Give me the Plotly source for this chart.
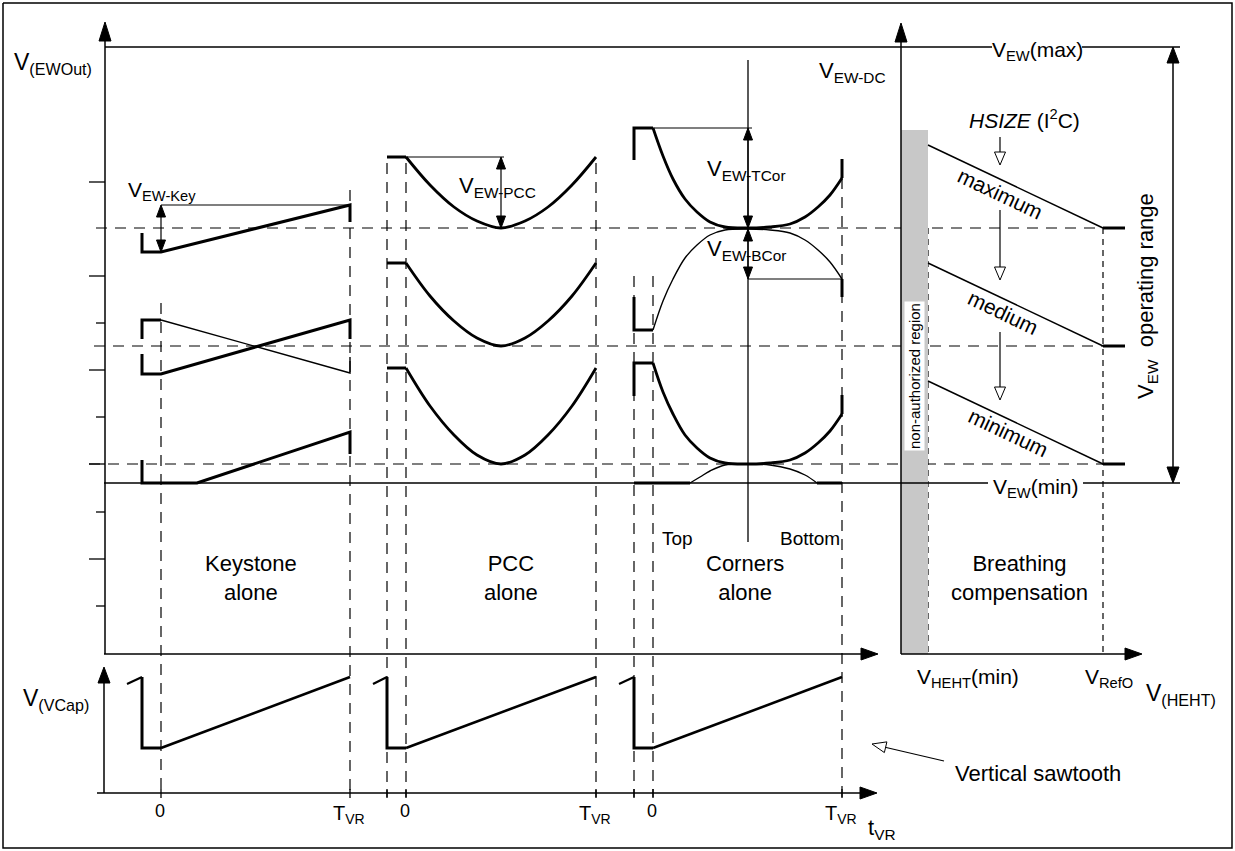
import math
import plotly.graph_objects as go

W, H = 1235, 851
FONT = "Arial, Liberation Sans, Helvetica, sans-serif"

# ---------------- data (diagram units: x to the right, y downwards) ----------------
# voltage levels on the V(EWOut) axis
V_MAX_Y = 47
V_MIN_Y = 483
LEVELS_Y = [228, 346, 464]
LEVELS_X0 = [96, 94, 89]
LEVEL_X1 = 1103
TICK_LONG_Y = [182, 276, 370, 464, 559]
TICK_SHORT_Y = [323, 417, 512, 606]

# time markers of the three vertical periods
SAW_START = [127, 373, 619]
FLY = [142, 387, 634]
ZERO = [161, 406, 653]
TVR = [350, 596, 842]
VLINE_X = [161, 350, 387, 406, 596, 634, 653, 842]
VLINE_TOP = [303, 190, 163, 163, 163, 276, 276, 178]
SAW_PRE_Y, SAW_HIGH_Y, SAW_LOW_Y = 684, 677, 748

# Keystone alone
KEY_A_X = [142, 142, 161, 350, 350]
KEY_A_Y = [233, 252, 252, 205, 222]
KEY_B_X = [142, 142, 161, 350, 350]
KEY_B_Y = [354, 374, 374, 320, 339]
KEY_C_BR_X = [142, 142, 161]
KEY_C_BR_Y = [339, 320, 320]
KEY_C_X = [161, 350, 350]
KEY_C_Y = [320, 373, 357]
KEY_D_X = [142, 142, 197, 350, 350]
KEY_D_Y = [460, 483, 483, 432, 454]

# PCC alone
PCC_X = [387, 406, 430, 454, 477, 501, 525, 548, 572, 596]
PCC_TOP_Y = [157, 157, 185, 207, 221, 228, 221, 207, 185, 157]
PCC_MID_Y = [263, 263, 296, 321, 338, 346, 338, 321, 296, 263]
PCC_LOW_Y = [368, 368, 406, 435, 455, 464, 455, 435, 406, 368]

# Corners alone
COR_X = [653, 663, 673, 685, 697, 710, 725, 748, 770, 790, 805, 818, 830, 842]
COR_TOP_Y = [128, 156, 179, 199, 212, 222, 227, 228, 227, 224, 217, 207, 195, 178]
COR_BOT_Y = [330, 301, 279, 258, 245, 235, 230, 229, 230, 233, 240, 250, 262, 279]
COR_LOW_Y = [363, 392, 414, 435, 448, 458, 463, 464, 463, 460, 453, 443, 431, 414]
COR_LOWB_X = [690, 700, 710, 725, 748, 770, 790, 805, 817]
COR_LOWB_Y = [483, 477, 471, 465, 464, 465, 469, 475, 483]

# Breathing compensation
BR_X = [928, 1103]
BR_MAX_Y = [145, 228]
BR_MED_Y = [263, 346]
BR_MIN_Y = [381, 464]
BR_END_X = 1125

# ---------------- figure ----------------
fig = go.Figure()


def line(xs, ys, width=1.3, dash=None, shape="linear", color="black"):
    fig.add_trace(go.Scatter(x=xs, y=ys, mode="lines", hoverinfo="skip",
                             line=dict(color=color, width=width, dash=dash, shape=shape)))


def segs(pairs, width=1.3, dash=None):
    xs, ys = [], []
    for (x0, y0, x1, y1) in pairs:
        xs += [x0, x1, None]
        ys += [y0, y1, None]
    line(xs, ys, width, dash)


def head(tx, ty, dx, dy, length=16, half=6, fill="black"):
    n = math.hypot(dx, dy)
    ux, uy = dx / n, dy / n
    bx, by = tx - ux * length, ty - uy * length
    px, py = -uy * half, ux * half
    fig.add_trace(go.Scatter(x=[tx, bx + px, bx - px, tx], y=[ty, by + py, by - py, ty],
                             mode="lines", fill="toself", fillcolor=fill, hoverinfo="skip",
                             line=dict(color="black", width=1)))


DASH = "11px,8px"
SDASH = "6px,5px"

# horizontal dashed levels
segs([(x0, y, LEVEL_X1, y) for x0, y in zip(LEVELS_X0, LEVELS_Y)], 1.2, DASH)
# vertical dashed time markers
segs([(x, yt, x, 797) for x, yt in zip(VLINE_X, VLINE_TOP)], 1.2, DASH)
# breathing dashed markers
segs([(BR_X[0], LEVELS_Y[0], BR_X[0], 654), (BR_X[1], LEVELS_Y[0], BR_X[1], 654)], 1.2, SDASH)

# gray non-authorized region
fig.add_trace(go.Scatter(x=[901, 928, 928, 901, 901], y=[130, 130, 654, 654, 130], mode="lines",
                         fill="toself", fillcolor="#c8c8c8", line=dict(width=0, color="#c8c8c8"),
                         hoverinfo="skip"))

# outer frame
line([3, 1232, 1232, 3, 3], [3, 3, 848, 848, 3], 1.5)

# V_EW(max) / V_EW(min) lines (gap for labels)
segs([(105, V_MAX_Y, 992, V_MAX_Y), (1082, V_MAX_Y, 1180, V_MAX_Y),
      (104, V_MIN_Y, 988, V_MIN_Y), (1083, V_MIN_Y, 1180, V_MIN_Y)], 1.3)

# axes
segs([(105, 654, 105, 30), (104, 654, 870, 654),
      (104, 793, 104, 675), (97, 793, 870, 793),
      (901, 654, 901, 30), (901, 654, 1135, 654),
      (1173, 55, 1173, 475)], 1.5)
head(105, 22, 0, -1, 19, 6)
head(901, 23, 0, -1, 19, 6)
head(878, 654, 1, 0, 17, 6)
head(877, 793, 1, 0, 17, 6)
head(104, 667, 0, -1, 16, 6)
head(1142, 654, 1, 0, 17, 6)
head(1173, 47, 0, -1, 16, 6)
head(1173, 483, 0, 1, 16, 6)

# axis ticks
segs([(89, y, 105, y) for y in TICK_LONG_Y] + [(96, y, 105, y) for y in TICK_SHORT_Y], 1.3)
segs([(x, 789, x, 798) for x in VLINE_X], 1.3)

# sawtooth
for s, f, z, t in zip(SAW_START, FLY, ZERO, TVR):
    line([s, f], [SAW_PRE_Y, SAW_HIGH_Y], 2.2)
    line([f, f, z], [SAW_HIGH_Y, SAW_LOW_Y, SAW_LOW_Y], 3)
    line([z, t], [SAW_LOW_Y, SAW_HIGH_Y], 2.6)

# keystone
line(KEY_A_X, KEY_A_Y, 3)
line(KEY_B_X, KEY_B_Y, 3)
line(KEY_C_BR_X, KEY_C_BR_Y, 3)
line(KEY_C_X, KEY_C_Y, 1.4)
line(KEY_D_X, KEY_D_Y, 3)

# PCC
for ys in (PCC_TOP_Y, PCC_MID_Y, PCC_LOW_Y):
    line(PCC_X[:2], ys[:2], 3)
    line(PCC_X[1:], ys[1:], 2.8, shape="spline")

# corners
line([FLY[2], FLY[2], ZERO[2]], [160, COR_TOP_Y[0], COR_TOP_Y[0]], 3)
line(COR_X, COR_TOP_Y, 2.8, shape="spline")
line([TVR[2], TVR[2]], [COR_TOP_Y[-1], 159], 3)

line([FLY[2], FLY[2], ZERO[2]], [297, COR_BOT_Y[0], COR_BOT_Y[0]], 3)
line(COR_X, COR_BOT_Y, 1.4, shape="spline")
line([TVR[2], TVR[2]], [COR_BOT_Y[-1], 297], 3)

line([FLY[2], FLY[2], ZERO[2]], [396, COR_LOW_Y[0], COR_LOW_Y[0]], 3)
line(COR_X, COR_LOW_Y, 2.8, shape="spline")
line([TVR[2], TVR[2]], [COR_LOW_Y[-1], 395], 3)

line([FLY[2], COR_LOWB_X[0]], [V_MIN_Y, V_MIN_Y], 3)
line(COR_LOWB_X, COR_LOWB_Y, 1.4, shape="spline")
line([COR_LOWB_X[-1], TVR[2]], [V_MIN_Y, V_MIN_Y], 3)

# corners centre line
segs([(748, 60, 748, 542)], 1.3)

# amplitude annotation lines + double arrows
segs([(161, 205, 350, 205), (406, 157, 504, 157), (653, 128, 752, 128), (748, 279, 842, 279)], 1.2)
for x, y0, y1 in [(161, 205, 252), (501, 157, 228), (748, 128, 228), (748, 229, 279)]:
    segs([(x, y0 + 8, x, y1 - 8)], 1.2)
    head(x, y0, 0, -1, 12, 4.5)
    head(x, y1, 0, 1, 12, 4.5)

# breathing lines
for ys in (BR_MAX_Y, BR_MED_Y, BR_MIN_Y):
    line(BR_X, ys, 1.5)
    line([BR_X[1], BR_END_X], [ys[1], ys[1]], 3)

# HSIZE hollow arrows
for y0, y1 in [(137, 165), (210, 280), (332, 400)]:
    segs([(1000, y0, 1000, y1 - 13)], 1.2)
    head(1000, y1, 0, 1, 13, 5.5, fill="white")

# vertical sawtooth pointer
segs([(944, 761, 884, 747)], 1.2)
head(872, 744, -72, -17, 14, 5.5, fill="white")

# ---------------- texts ----------------
ann = []


def txt(x, y, s, size=21, xa="left", ya="middle", angle=0, bg=None, color="black"):
    d = dict(x=x, y=y, xref="x", yref="y", text=s, showarrow=False, xanchor=xa, yanchor=ya,
             textangle=angle, font=dict(family=FONT, size=size, color=color))
    if bg:
        d.update(bgcolor=bg, borderpad=1)
    ann.append(d)


def sub(s):
    return f"<sub>{s}</sub>"


txt(12, 63, "V" + sub("(EWOut)"), 23)
txt(126, 191, "V" + sub("EW-Key"), 21)
txt(457, 187, "V" + sub("EW-PCC"), 22)
txt(705, 170, "V" + sub("EW-TCor"), 22)
txt(705, 250, "V" + sub("EW-BCor"), 22)
txt(817, 72, "V" + sub("EW-DC"), 22)
txt(1037, 51, "V" + sub("EW") + "(max)", 21, xa="center")
txt(1036, 488, "V" + sub("EW") + "(min)", 21, xa="center")
txt(1024, 119, "<i>HSIZE</i> (I<sup>2</sup>C)", 21, xa="center")
txt(1000, 193, "maximum", 21, xa="center", angle=25.4)
txt(1003, 312, "medium", 21, xa="center", angle=25.4)
txt(1008, 432, "minimum", 21, xa="center", angle=25.4)
txt(914, 376, "non-authorized region", 15, xa="center", angle=-90, bg="white")
txt(1147, 296, "V" + sub("EW") + "  operating range", 22, xa="center", angle=-90)
txt(1019, 578, "Breathing<br>compensation", 22, xa="center")
txt(251, 578, "Keystone<br>alone", 22, xa="center")
txt(511, 578, "PCC<br>alone", 22, xa="center")
txt(745, 578, "Corners<br>alone", 22, xa="center")
txt(677, 538, "Top", 19, xa="center")
txt(810, 538, "Bottom", 19, xa="center")
txt(915, 678, "V" + sub("HEHT") + "(min)", 21)
txt(1083, 678, "V" + sub("RefO"), 21)
txt(1144, 694, "V" + sub("(HEHT)"), 23)
txt(21, 699, "V" + sub("(VCap)"), 23)
for z in ZERO:
    txt(z - 1, 811, "0", 18, xa="center")
for t in TVR:
    txt(t - 1, 814, "T" + sub("VR"), 20, xa="center")
txt(866, 829, "t" + sub("VR"), 22)
txt(953, 773, "Vertical sawtooth", 22)

fig.update_layout(
    width=W, height=H, autosize=False,
    font=dict(family=FONT, size=20, color="black"),
    margin=dict(l=0, r=0, t=0, b=0, pad=0),
    paper_bgcolor="white", plot_bgcolor="white",
    showlegend=False, hovermode=False,
    xaxis=dict(range=[0, W], visible=False, fixedrange=True),
    yaxis=dict(range=[H, 0], visible=False, fixedrange=True),
    annotations=ann,
)

fig.write_html("out.html", config={"displayModeBar": False},
               post_script="document.body.style.margin='0';document.body.style.overflow='hidden';")
